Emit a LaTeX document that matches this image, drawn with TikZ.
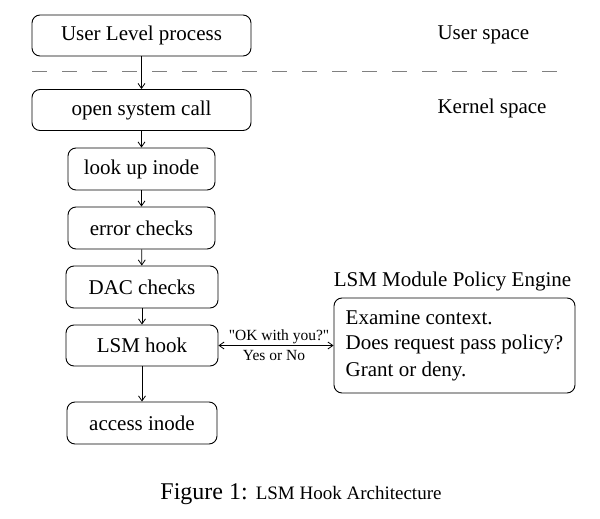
\documentclass[tikz,border=0pt]{standalone}
\usepackage{fontspec}
\setmainfont{Liberation Serif}
\newfontfamily\quotefont{Liberation Serif}
\usetikzlibrary{arrows.meta}

\tikzset{
  stepbox/.style={draw, rounded corners=8pt, line width=0.9pt, inner sep=0pt,
    minimum height=41pt, font=\fontsize{21}{25}\selectfont},
  flow/.style={-{Straight Barb[length=5pt,width=7pt]}, line width=0.8pt},
  lbl/.style={font=\fontsize{21}{25}\selectfont},
  small/.style={font=\quotefont\fontsize{15.5}{18}\selectfont, inner sep=1pt}
}

\begin{document}
\begin{tikzpicture}[x=1pt,y=-1pt]
  \useasboundingbox (0,0) rectangle (600,519);
  % user / kernel boundary
  \draw[gray, line width=1pt, dash pattern=on 15pt off 15pt] (32,72) -- (557,72);
  \node[lbl, anchor=west] (user) at (434,35) {User space};
  \node[lbl, anchor=west] (kernel) at (434,108) {Kernel space};
  % the open path
  \node[stepbox, minimum width=219pt] (proc) at (141.5,35.5) {User Level process};
  \node[stepbox, minimum width=219pt] (open) at (141.5,110) {open system call};
  \node[stepbox, minimum width=147pt, minimum height=42pt] (lookup) at (141.5,169) {look up inode};
  \node[stepbox, minimum width=147pt, minimum height=42pt] (errchk) at (141.5,228) {error checks};
  \node[stepbox, minimum width=152pt, minimum height=42pt] (dac) at (142,287) {DAC checks};
  \node[stepbox, minimum width=152pt] (hook) at (142,345.5) {LSM hook};
  \node[stepbox, minimum width=150pt, minimum height=42pt] (access) at (142,423) {access inode};
  \draw[flow] (proc) -- (open);
  \draw[flow] (open) -- (lookup);
  \draw[flow] (lookup) -- (errchk);
  \draw[flow] (errchk) -- (dac);
  \draw[flow] (dac) -- (hook);
  \draw[flow] (hook) -- (access);
  % policy engine
  \node[lbl] (engtitle) at (452.5,281) {LSM Module Policy Engine};
  \node[draw, rounded corners=8pt, line width=0.9pt, minimum width=241pt, minimum height=95pt,
    align=left, font=\fontsize{21}{27}\selectfont] (engine) at (454.5,345.5)
    {\raisebox{-2pt}{Examine context.}\\Does request pass policy?\\Grant or deny.};
  \draw[{Straight Barb[length=5pt,width=7pt]}-{Straight Barb[length=5pt,width=7pt]}, line width=0.8pt]
    (hook) -- (engine)
    node[small, midway, above, xshift=3pt] {"OK with you?"}
    node[small, midway, below, yshift=-3pt, xshift=-2pt] {Yes or No};
  % caption
  \node (caption) at (301,494) {\fontsize{24}{28}\selectfont Figure 1: \fontsize{19}{23}\selectfont LSM Hook Architecture};
\end{tikzpicture}
\end{document}
